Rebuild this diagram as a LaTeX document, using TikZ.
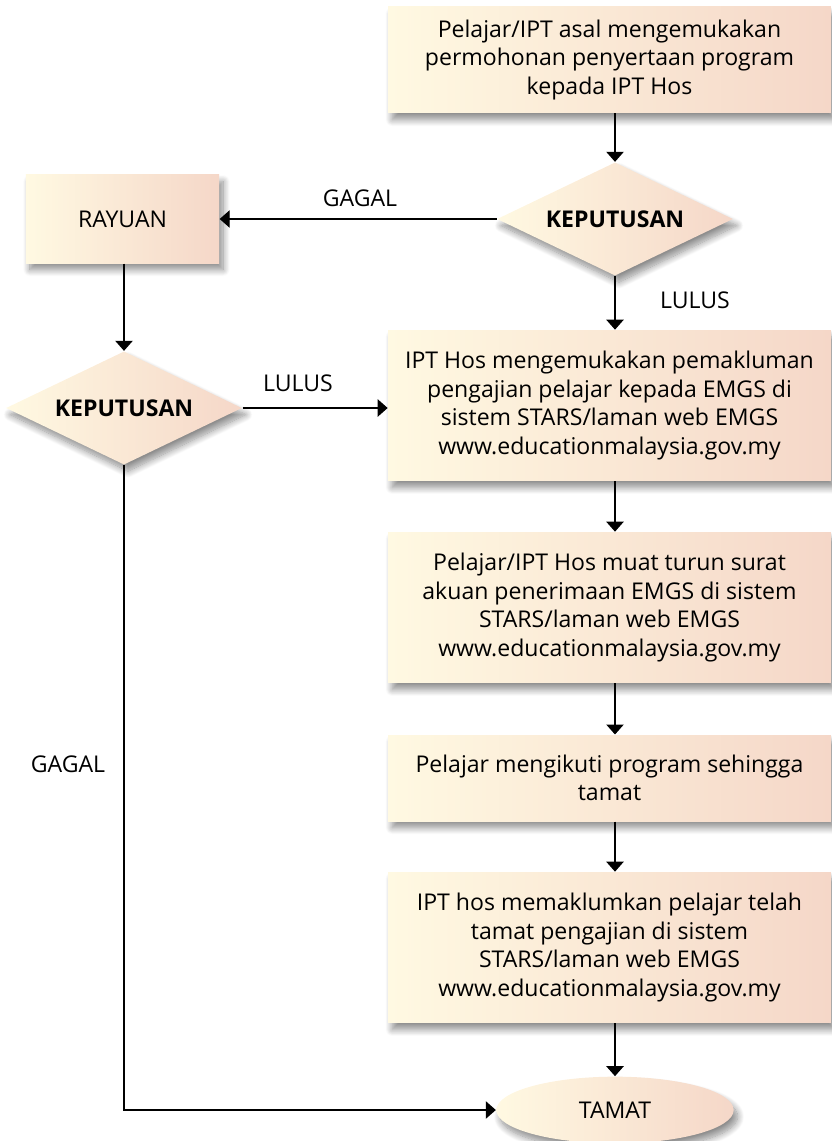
\documentclass[tikz,border=0pt]{standalone}
\usepackage{fontspec}
\setmainfont{Open Sans}
\usetikzlibrary{shapes.geometric,arrows.meta,shadows.blur}

\definecolor{cream}{RGB}{255,249,226}
\definecolor{peach}{RGB}{245,215,200}

\tikzset{every picture/.style={line width=0.75pt}}
\tikzset{
  flowbox/.style={draw=none, left color=cream, right color=peach, align=center,
    inner sep=0pt, font=\fontsize{17.3}{21.5}\selectfont,
    blur shadow={shadow xshift=3pt, shadow yshift=-5pt, shadow opacity=45, shadow blur steps=12, shadow blur radius=5pt}},
  decision/.style={flowbox, diamond, aspect=2.08, minimum width=177pt, minimum height=85pt,
    font=\fontsize{17.3}{21.5}\selectfont\bfseries},
  endpoint/.style={flowbox, ellipse, minimum width=178pt, minimum height=50pt},
  flowarrow/.style={line width=1pt, -{Triangle[width=13pt,length=7.5pt]}},
  flowlabel/.style={font=\fontsize{17.3}{21.5}\selectfont}
}

\begin{document}
\begin{tikzpicture}[x=0.75pt,y=0.75pt,yscale=-1,xscale=1]
  \useasboundingbox (0,0) rectangle (831,1141);

  %Boxes
  \node[flowbox, minimum width=332pt, minimum height=79.5pt] (apply) at (609.5,60)
    {Pelajar/IPT asal mengemukakan\\permohonan penyertaan program\\kepada IPT Hos};
  \node[decision] (decideA) at (615,219) {KEPUTUSAN};
  \node[flowbox, minimum width=145pt, minimum height=66pt] (appeal) at (122.5,219) {RAYUAN};
  \node[decision] (decideB) at (124,408) {KEPUTUSAN};
  \node[flowbox, minimum width=332pt, minimum height=113pt] (notify) at (609.5,405.5)
    {IPT Hos mengemukakan pemakluman\\pengajian pelajar kepada EMGS di\\sistem STARS/laman web EMGS\\www.educationmalaysia.gov.my};
  \node[flowbox, minimum width=332pt, minimum height=113pt] (letter) at (609.5,607.5)
    {Pelajar/IPT Hos muat turun surat\\akuan penerimaan EMGS di sistem\\STARS/laman web EMGS\\www.educationmalaysia.gov.my};
  \node[flowbox, minimum width=332pt, minimum height=64.5pt] (follow) at (609.5,778)
    {Pelajar mengikuti program sehingga\\tamat};
  \node[flowbox, minimum width=332pt, minimum height=113pt] (finish) at (609.5,947.5)
    {IPT hos memaklumkan pelajar telah\\tamat pengajian di sistem\\STARS/laman web EMGS\\www.educationmalaysia.gov.my};
  \node[endpoint] (done) at (615,1110) {TAMAT};

  %Arrows
  \draw[flowarrow] (apply.south -| decideA) -- (decideA.north);
  \draw[flowarrow] (decideA.west) -- (appeal.east);
  \draw[flowarrow] (decideA.south) -- (notify.north -| decideA);
  \draw[flowarrow] (appeal.south -| decideB) -- (decideB.north);
  \draw[flowarrow] (decideB.east) -- (notify.west |- decideB);
  \draw[flowarrow] (notify.south -| decideA) -- (letter.north -| decideA);
  \draw[flowarrow] (letter.south -| decideA) -- (follow.north -| decideA);
  \draw[flowarrow] (follow.south -| decideA) -- (finish.north -| decideA);
  \draw[flowarrow] (finish.south -| done) -- (done.north);
  \draw[flowarrow] (decideB.south) |- (done.west);

  %Labels
  \node[flowlabel] (failA) at (360,198) {GAGAL};
  \node[flowlabel] (passA) at (695,300) {LULUS};
  \node[flowlabel] (passB) at (298,383) {LULUS};
  \node[flowlabel] (failB) at (68,764) {GAGAL};
\end{tikzpicture}
\end{document}
